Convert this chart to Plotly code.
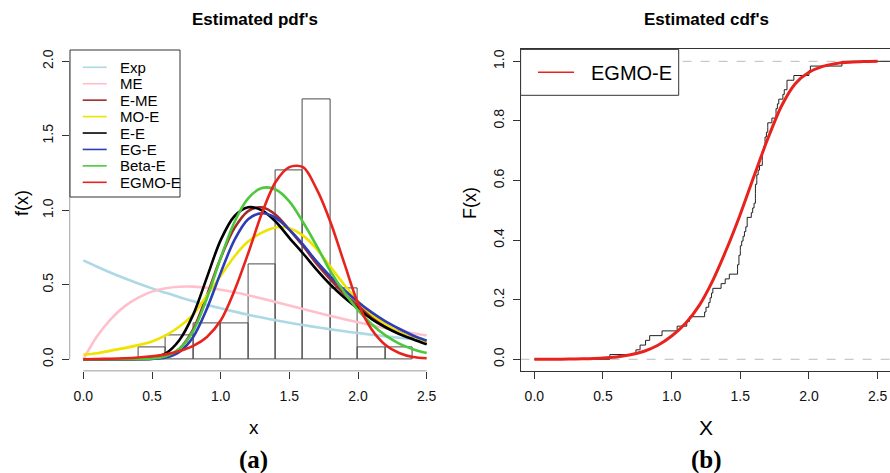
import plotly.graph_objects as go

# ---------------- data ----------------
x_grid = [0.0, 0.1, 0.2, 0.3, 0.4, 0.5, 0.6, 0.7, 0.8, 0.9, 1.0, 1.1, 1.2,
          1.3, 1.4, 1.5, 1.6, 1.7, 1.8, 1.9, 2.0, 2.1, 2.2, 2.3, 2.4, 2.5]

pdf_exp = [0.664, 0.621, 0.581, 0.544, 0.509, 0.476, 0.446, 0.417, 0.390, 0.365,
           0.342, 0.320, 0.299, 0.280, 0.262, 0.245, 0.230, 0.215, 0.201, 0.188,
           0.176, 0.165, 0.154, 0.144, 0.135, 0.126]
pdf_me = [0.0, 0.154, 0.270, 0.355, 0.414, 0.454, 0.477, 0.487, 0.488, 0.480,
          0.467, 0.450, 0.430, 0.408, 0.385, 0.361, 0.337, 0.314, 0.291, 0.269,
          0.248, 0.228, 0.209, 0.191, 0.175, 0.160]
pdf_eme = [0.0, 0.0, 0.0, 0.0005, 0.001, 0.004, 0.018, 0.07, 0.20, 0.43,
           0.68, 0.88, 0.995, 1.02, 0.97, 0.87, 0.76, 0.64, 0.535, 0.44,
           0.36, 0.29, 0.23, 0.18, 0.14, 0.105]
pdf_moe = [0.03, 0.04, 0.058, 0.075, 0.095, 0.12, 0.16, 0.22, 0.30, 0.43,
           0.56, 0.69, 0.79, 0.85, 0.885, 0.88, 0.83, 0.74, 0.62, 0.50,
           0.39, 0.30, 0.235, 0.18, 0.14, 0.112]
pdf_ee = [0.0, 0.0, 0.0, 0.001, 0.003, 0.01, 0.04, 0.13, 0.30, 0.55,
          0.80, 0.96, 1.02, 1.00, 0.925, 0.815, 0.71, 0.60, 0.50, 0.415,
          0.34, 0.27, 0.215, 0.17, 0.134, 0.10]
pdf_ege = [0.0, 0.0, 0.0, 0.0, 0.001, 0.003, 0.012, 0.05, 0.15, 0.34,
           0.58, 0.80, 0.94, 0.98, 0.95, 0.87, 0.77, 0.655, 0.555, 0.465,
           0.385, 0.315, 0.255, 0.205, 0.16, 0.125]
pdf_betae = [0.0, 0.0, 0.0, 0.0, 0.001, 0.005, 0.02, 0.07, 0.19, 0.41,
             0.68, 0.92, 1.08, 1.15, 1.14, 1.06, 0.92, 0.76, 0.59, 0.45,
             0.33, 0.235, 0.16, 0.105, 0.068, 0.042]
pdf_egmoe = [0.0, 0.002, 0.004, 0.007, 0.012, 0.02, 0.033, 0.055, 0.09, 0.15,
             0.26, 0.46, 0.71, 0.98, 1.19, 1.29, 1.29, 1.14, 0.92, 0.645,
             0.376, 0.20, 0.096, 0.042, 0.015, 0.007]

hist_mid = [0.5, 0.7, 0.9, 1.1, 1.3, 1.5, 1.7, 1.9, 2.1, 2.3]
hist_density = [0.079, 0.159, 0.238, 0.238, 0.635, 1.270, 1.746, 0.476, 0.079, 0.079]
hist_binwidth = 0.2

# observations (jump points of the empirical cdf)
obs = [0.55, 0.74, 0.77, 0.81, 0.84, 0.93, 1.04, 1.11, 1.13, 1.24, 1.25, 1.27,
       1.28, 1.29, 1.30, 1.36, 1.39, 1.42, 1.48, 1.48, 1.49, 1.49, 1.50, 1.50,
       1.51, 1.52, 1.53, 1.54, 1.55, 1.55, 1.58, 1.59, 1.60, 1.61, 1.61, 1.61,
       1.61, 1.62, 1.62, 1.63, 1.64, 1.66, 1.66, 1.66, 1.67, 1.68, 1.68, 1.69,
       1.70, 1.70, 1.73, 1.76, 1.76, 1.77, 1.78, 1.81, 1.82, 1.84, 1.84, 1.89,
       2.00, 2.01, 2.24]

cdf_egmoe = [0.0, 0.0002, 0.0005, 0.001, 0.002, 0.004, 0.008, 0.015, 0.027, 0.047,
             0.078, 0.12, 0.18, 0.265, 0.37, 0.487, 0.615, 0.74, 0.85, 0.925,
             0.963, 0.983, 0.993, 0.997, 0.999, 1.0]

pdf_names = ["Exp", "ME", "E-ME", "MO-E", "E-E", "EG-E", "Beta-E", "EGMO-E"]
pdf_series = [pdf_exp, pdf_me, pdf_eme, pdf_moe, pdf_ee, pdf_ege, pdf_betae, pdf_egmoe]
pdf_colors = ["#ADD8E6", "#FFC0CB", "#A52A2A", "#EEE400", "#000000",
              "#2F3DB5", "#4CC83C", "#E8231E"]

x_ticks = [0.0, 0.5, 1.0, 1.5, 2.0, 2.5]
pdf_yticks = [0.0, 0.5, 1.0, 1.5, 2.0]
cdf_yticks = [0.0, 0.2, 0.4, 0.6, 0.8, 1.0]

# ---------------- layout geometry ----------------
W, H = 890, 473
def px(xp):
    return xp / W
def py(yp):
    return 1 - yp / H

PLOT_TOP, PLOT_BOT = 49.4, 371.2
L_LEFT, L_RIGHT = 69.6, 440.4
R_LEFT = 520.6

FONT = "Liberation Sans, Arial, sans-serif"
AX = "#333333"

fig = go.Figure()

# histogram bars
fig.add_trace(go.Bar(
    x=hist_mid, y=hist_density, width=[hist_binwidth] * len(hist_mid),
    marker=dict(color="rgba(255,255,255,0)", line=dict(color="#4a4a4a", width=1)),
    xaxis="x", yaxis="y", showlegend=False, hoverinfo="skip"))

for name, ys, col in zip(pdf_names, pdf_series, pdf_colors):
    fig.add_trace(go.Scatter(
        x=x_grid, y=ys, mode="lines", name=name,
        line=dict(color=col, width=2.6, shape="spline", smoothing=0.9),
        xaxis="x", yaxis="y", showlegend=False))

# empirical cdf
n = len(obs)
ecdf_x = [0.0] + obs + [2.6]
ecdf_y = [0.0] + [(i + 1) / n for i in range(n)] + [1.0]
fig.add_trace(go.Scatter(
    x=ecdf_x, y=ecdf_y, mode="lines", line=dict(color="#222222", width=1, shape="hv"),
    xaxis="x2", yaxis="y2", showlegend=False))
fig.add_trace(go.Scatter(
    x=x_grid, y=cdf_egmoe, mode="lines", name="EGMO-E",
    line=dict(color="#E8231E", width=3, shape="spline", smoothing=0.8),
    xaxis="x2", yaxis="y2", showlegend=False))

ydom = [py(PLOT_BOT), py(PLOT_TOP)]
tickfont = dict(family=FONT, size=14, color="#111111")

fig.update_layout(
    width=W, height=H, margin=dict(l=0, r=0, t=0, b=0),
    paper_bgcolor="white", plot_bgcolor="white", bargap=0,
    xaxis=dict(domain=[px(L_LEFT), px(L_RIGHT)], range=[-0.1, 2.6],
               tickvals=x_ticks, ticktext=["%.1f" % v for v in x_ticks],
               ticks="outside", ticklen=7, tickcolor=AX, showline=False,
               ticklabelstandoff=5,
               showgrid=False, zeroline=False, tickfont=tickfont, automargin=False),
    yaxis=dict(domain=ydom, range=[-0.08, 2.08],
               tickvals=pdf_yticks, ticktext=["%.1f" % v for v in pdf_yticks],
               ticks="outside", ticklen=7, tickcolor=AX, showline=False,
               ticklabelstandoff=3,
               showgrid=False, zeroline=False, tickangle=-90, tickfont=tickfont,
               automargin=False),
    xaxis2=dict(domain=[px(R_LEFT), 1.0], range=[-0.1, 2.59], anchor="y2",
                tickvals=x_ticks, ticktext=["%.1f" % v for v in x_ticks],
                ticks="outside", ticklen=7, tickcolor=AX, showline=True,
                linecolor=AX, linewidth=1, mirror=True, ticklabelstandoff=5,
                showgrid=False, zeroline=False, tickfont=tickfont, automargin=False),
    yaxis2=dict(domain=ydom, range=[-0.04, 1.04], anchor="x2",
                tickvals=cdf_yticks, ticktext=["%.1f" % v for v in cdf_yticks],
                ticks="outside", ticklen=7, tickcolor=AX, showline=True,
                linecolor=AX, linewidth=1, mirror=False, ticklabelstandoff=3,
                showgrid=False, zeroline=False, tickangle=-90, tickfont=tickfont,
                automargin=False),
)

shapes = []
# left panel axis lines (R style: only over the tick range)
shapes.append(dict(type="line", xref="x", yref="y", x0=0, x1=2.5, y0=-0.08, y1=-0.08,
                   line=dict(color=AX, width=1)))
shapes.append(dict(type="line", xref="x", yref="y", x0=-0.1, x1=-0.1, y0=0, y1=2.0,
                   line=dict(color=AX, width=1)))
# right panel dashed reference lines
for yv in [0.0, 1.0]:
    shapes.append(dict(type="line", xref="x2 domain", yref="y2", x0=0, x1=1, y0=yv, y1=yv,
                       line=dict(color="#BBBBBB", width=1, dash="dash"), layer="below"))

# left legend box
lw = L_RIGHT - L_LEFT
ph = PLOT_BOT - PLOT_TOP
def ldx(xp):
    return (xp - L_LEFT) / lw
def dy(yp):
    return (PLOT_BOT - yp) / ph
shapes.append(dict(type="rect", xref="x domain", yref="y domain",
                   x0=ldx(70), x1=ldx(180), y0=dy(197), y1=dy(50),
                   line=dict(color=AX, width=1), fillcolor="white"))
annotations = []
for i, (name, col) in enumerate(zip(pdf_names, pdf_colors)):
    yrow = 67.3 + 16.43 * i
    shapes.append(dict(type="line", xref="x domain", yref="y domain",
                       x0=ldx(82.7), x1=ldx(106.7), y0=dy(yrow), y1=dy(yrow),
                       line=dict(color=col, width=1.6)))
    annotations.append(dict(text=name, xref="paper", yref="paper",
                            x=px(117.5), y=py(yrow), xanchor="left", yanchor="middle",
                            showarrow=False, font=dict(family=FONT, size=15, color="#000")))

# right legend box
rw = W - R_LEFT
def rdx(xp):
    return (xp - R_LEFT) / rw
shapes.append(dict(type="rect", xref="x2 domain", yref="y2 domain",
                   x0=rdx(R_LEFT), x1=rdx(678.7), y0=dy(95.3), y1=dy(PLOT_TOP),
                   line=dict(color=AX, width=1), fillcolor="white"))
shapes.append(dict(type="line", xref="x2 domain", yref="y2 domain",
                   x0=rdx(538), x1=rdx(574), y0=dy(72.3), y1=dy(72.3),
                   line=dict(color="#E8231E", width=1.6)))
annotations.append(dict(text="EGMO-E", xref="paper", yref="paper",
                        x=px(589), y=py(72.8), xanchor="left", yanchor="middle",
                        showarrow=False, font=dict(family=FONT, size=20, color="#000")))

# titles and labels
def txt(t, xp, yp, size, bold=False, family=FONT, angle=0):
    annotations.append(dict(text=("<b>%s</b>" % t) if bold else t, xref="paper", yref="paper",
                            x=px(xp), y=py(yp), xanchor="center", yanchor="middle",
                            showarrow=False, textangle=angle,
                            font=dict(family=family, size=size, color="#000")))

txt("Estimated pdf's", 255, 19, 17, bold=True)
txt("Estimated cdf's", 706, 19, 17, bold=True)
txt("x", 254, 427, 19)
txt("X", 706, 427, 21)
txt("f(x)", 22, 203, 18, angle=-90)
txt("F(x)", 470, 203, 18, angle=-90)
txt("(a)", 253, 460, 25, bold=True, family="Liberation Serif, Times New Roman, serif")
txt("(b)", 706, 460, 25, bold=True, family="Liberation Serif, Times New Roman, serif")

fig.update_layout(shapes=shapes, annotations=annotations)
fig.write_html("out.html", config={"displayModeBar": False},
               post_script="document.body.style.margin='0';document.body.style.padding='0';"
                           "document.body.style.overflow='hidden';")
